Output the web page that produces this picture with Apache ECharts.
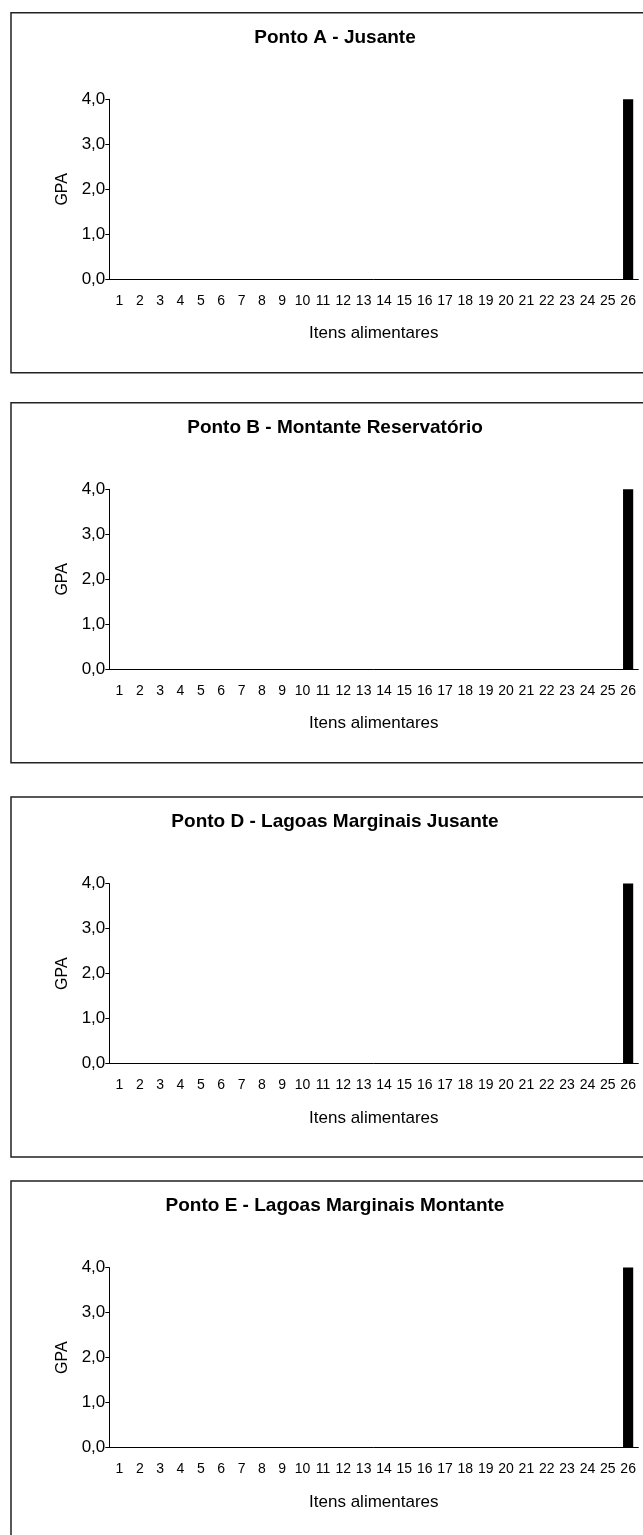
<!DOCTYPE html>
<html>
<head>
<meta charset="utf-8">
<script src="https://cdn.jsdelivr.net/npm/echarts@6/dist/echarts.min.js"></script>
<style>
  html, body { margin: 0; padding: 0; background: #fff; }
  #chart { width: 643px; height: 1535px; }
</style>
</head>
<body>
<div id="chart"></div>
<script>
const categories = ['1', '2', '3', '4', '5', '6', '7', '8', '9', '10', '11', '12', '13',
  '14', '15', '16', '17', '18', '19', '20', '21', '22', '23', '24', '25', '26'];

const titles = [
  'Ponto A - Jusante',
  'Ponto B - Montante Reservatório',
  'Ponto D - Lagoas Marginais Jusante',
  'Ponto E - Lagoas Marginais Montante'
];

const gpaA = [0, 0, 0, 0, 0, 0, 0, 0, 0, 0, 0, 0, 0, 0, 0, 0, 0, 0, 0, 0, 0, 0, 0, 0, 0, 4.0];
const gpaB = [0, 0, 0, 0, 0, 0, 0, 0, 0, 0, 0, 0, 0, 0, 0, 0, 0, 0, 0, 0, 0, 0, 0, 0, 0, 4.0];
const gpaD = [0, 0, 0, 0, 0, 0, 0, 0, 0, 0, 0, 0, 0, 0, 0, 0, 0, 0, 0, 0, 0, 0, 0, 0, 0, 4.0];
const gpaE = [0, 0, 0, 0, 0, 0, 0, 0, 0, 0, 0, 0, 0, 0, 0, 0, 0, 0, 0, 0, 0, 0, 0, 0, 0, 4.0];

const yTicks = { min: 0, max: 4, interval: 1 };

const panels = [gpaA, gpaB, gpaD, gpaE];
// top edge of each framed panel
const panelTop = [12.7, 402.7, 797, 1181];

const font = '"Liberation Sans", Arial, sans-serif';
const chart = echarts.init(document.getElementById('chart'));

const option = {
  backgroundColor: '#fff',
  animation: false,
  title: [],
  grid: [],
  xAxis: [],
  yAxis: [],
  series: [],
  graphic: []
};

panels.forEach((values, i) => {
  const top = panelTop[i];

  option.graphic.push({
    type: 'rect',
    shape: { x: 11, y: top, width: 660, height: 360 },
    style: { fill: 'none', stroke: '#222', lineWidth: 1.5 },
    z: 0
  });

  option.title.push({
    text: titles[i],
    left: 335,
    top: top + 15.5,
    textAlign: 'center',
    padding: 0,
    textStyle: { fontFamily: font, fontSize: 19, fontWeight: 'bold', color: '#000' }
  });

  option.grid.push({
    left: 109.3,
    right: 4.7,
    top: top + 86.6,
    height: 180,
    containLabel: false
  });

  option.xAxis.push({
    type: 'category',
    gridIndex: i,
    data: categories,
    name: 'Itens alimentares',
    nameLocation: 'middle',
    nameGap: 46,
    nameTextStyle: { fontFamily: font, fontSize: 17, color: '#000' },
    axisLine: { lineStyle: { color: '#000', width: 1 } },
    axisTick: { length: 4, lineStyle: { color: '#000' } },
    axisLabel: { interval: 0, margin: 15, fontFamily: font, fontSize: 14, color: '#000' },
    splitLine: { show: false }
  });

  option.yAxis.push({
    type: 'value',
    gridIndex: i,
    min: yTicks.min,
    max: yTicks.max,
    interval: yTicks.interval,
    name: 'GPA',
    nameLocation: 'middle',
    nameRotate: 90,
    nameGap: 38,
    nameTextStyle: { fontFamily: font, fontSize: 16, color: '#000' },
    axisLine: { show: true, lineStyle: { color: '#000', width: 1 } },
    axisTick: { show: true, length: 4, lineStyle: { color: '#000' } },
    axisLabel: {
      margin: 4,
      fontFamily: font,
      fontSize: 17,
      color: '#000',
      formatter: v => v.toFixed(1).replace('.', ',')
    },
    splitLine: { show: false }
  });

  option.series.push({
    type: 'bar',
    xAxisIndex: i,
    yAxisIndex: i,
    data: values,
    barWidth: '50%',
    itemStyle: { color: '#000' }
  });
});

chart.setOption(option);
</script>
</body>
</html>
